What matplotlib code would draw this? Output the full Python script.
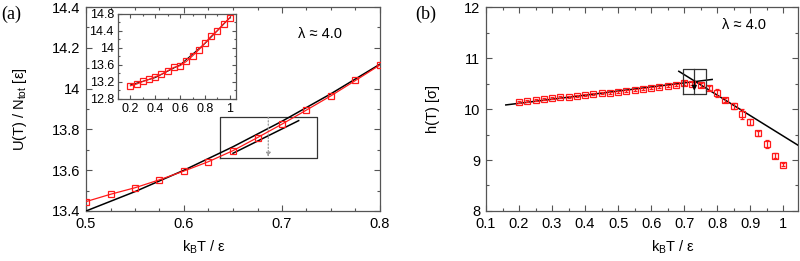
import numpy as np
import matplotlib
matplotlib.use('Agg')
import matplotlib.pyplot as plt
from matplotlib.ticker import MultipleLocator, FuncFormatter

plt.rcParams['font.family'] = ['Liberation Sans', 'DejaVu Sans']
plt.rcParams['mathtext.default'] = 'regular'

# (a) 能量数据
T_a = [0.5, 0.525, 0.55, 0.575, 0.6, 0.625, 0.65, 0.675, 0.7, 0.725, 0.75, 0.775, 0.8]
U_a = [13.446, 13.482, 13.514, 13.553, 13.596, 13.642, 13.696, 13.76, 13.826, 13.895, 13.965, 14.04, 14.116]
T_fit_a = [0.5, 0.55, 0.6, 0.65, 0.7, 0.75, 0.8]
U_fit_a = [13.40, 13.495, 13.60, 13.715, 13.84, 13.975, 14.12]
T_tan_a = [0.65, 0.717]
U_tan_a = [13.683, 13.843]

# (a) 插图
T_in = [0.2, 0.25, 0.3, 0.35, 0.4, 0.45, 0.5, 0.55, 0.6, 0.65, 0.7, 0.75, 0.8, 0.85, 0.9, 0.95, 1.0]
U_in = [13.11, 13.15, 13.21, 13.26, 13.32, 13.38, 13.46, 13.54, 13.58, 13.68, 13.81, 13.95, 14.11, 14.27, 14.40, 14.56, 14.70]
T_fit_in = [0.2, 0.4, 0.6, 0.8, 1.0]
U_fit_in = [13.13, 13.30, 13.60, 14.10, 14.70]

# (b) 高度数据
T_b = [0.2, 0.225, 0.25, 0.275, 0.3, 0.325, 0.35, 0.375, 0.4, 0.425, 0.45, 0.475, 0.5,
       0.525, 0.55, 0.575, 0.6, 0.625, 0.65, 0.675, 0.7, 0.725, 0.75, 0.775, 0.8,
       0.825, 0.85, 0.875, 0.9, 0.925, 0.95, 0.975, 1.0]
h_b = [10.14, 10.16, 10.18, 10.19, 10.21, 10.23, 10.24, 10.26, 10.27, 10.29, 10.31, 10.32, 10.34,
       10.36, 10.38, 10.40, 10.42, 10.44, 10.46, 10.48, 10.51, 10.50, 10.47, 10.42, 10.32,
       10.18, 10.06, 9.91, 9.74, 9.52, 9.31, 9.08, 8.91]
err_b = [0.02, 0.02, 0.02, 0.02, 0.02, 0.02, 0.02, 0.02, 0.02, 0.02, 0.02, 0.02, 0.02,
         0.02, 0.02, 0.02, 0.02, 0.02, 0.02, 0.02, 0.03, 0.03, 0.04, 0.04, 0.08,
         0.04, 0.05, 0.10, 0.06, 0.05, 0.08, 0.05, 0.03]
T_line1_b = [0.160, 0.785]
h_line1_b = [10.08, 10.58]
T_line2_b = [0.684, 1.045]
h_line2_b = [10.74, 9.29]

RED = '#ff1a1a'
SPINE = '#555555'


def style_axes(ax, xmaj, xmin, ymaj, ymin, size=10.5, tl=4, tlm=2):
    ax.xaxis.set_major_locator(MultipleLocator(xmaj))
    ax.xaxis.set_minor_locator(MultipleLocator(xmin))
    ax.yaxis.set_major_locator(MultipleLocator(ymaj))
    ax.yaxis.set_minor_locator(MultipleLocator(ymin))
    fmt = FuncFormatter(lambda v, p: '%g' % round(v, 6))
    ax.xaxis.set_major_formatter(fmt)
    ax.yaxis.set_major_formatter(fmt)
    ax.tick_params(which='both', direction='in', top=True, right=True,
                   color=SPINE, labelsize=size, width=0.8)
    ax.tick_params(which='major', length=tl, pad=4)
    ax.tick_params(which='minor', length=tlm)
    for s in ax.spines.values():
        s.set_color(SPINE)
        s.set_linewidth(0.9)


fig = plt.figure(figsize=(8, 2.61), dpi=100)

# ---- 面板 (a)
ax1 = fig.add_axes([0.1075, 0.1916, 0.3675, 0.7814])
ax1.plot(T_fit_a, U_fit_a, color='black', lw=1.1, zorder=3)
ax1.plot(T_a, U_a, color=RED, lw=0.9, marker='s', ms=5, mfc='none', mec=RED, mew=0.9, zorder=4)
ax1.plot(T_tan_a, U_tan_a, color='black', lw=1.1, zorder=3)
ax1.plot([0.6367, 0.736, 0.736, 0.6367, 0.6367], [13.66, 13.66, 13.859, 13.859, 13.66],
         color='#333333', lw=0.9, zorder=2)
ax1.annotate('', xy=(0.686, 13.665), xytext=(0.686, 13.859),
             arrowprops=dict(arrowstyle='-|>', color='#999999', lw=0.9, ls=':',
                             mutation_scale=6, shrinkA=0, shrinkB=0))
ax1.set_xlim(0.5, 0.8)
ax1.set_ylim(13.4, 14.4)
style_axes(ax1, 0.1, 0.025, 0.2, 0.1)
ax1.text(0.716, 14.27, 'λ ≈ 4.0', fontsize=10.5, va='center')
ax1.set_xlabel('k$_B$T / ε', fontsize=10.5, va='center')
ax1.set_ylabel('U(T) / N$_{tot}$ [ε]', fontsize=10.5, va='center')
ax1.xaxis.set_label_coords(0.40, -0.18)
ax1.yaxis.set_label_coords(-0.225, 0.5)

# 插图
axi = fig.add_axes([0.1475, 0.6207, 0.1475, 0.3273])
axi.plot(T_fit_in, U_fit_in, color='black', lw=0.7, zorder=3)
axi.plot(T_in, U_in, color=RED, lw=0.9, marker='s', ms=5, mfc='none', mec=RED, mew=0.9, zorder=4)
axi.set_xlim(0.1, 1.05)
axi.set_ylim(12.8, 14.8)
style_axes(axi, 0.2, 0.1, 0.4, 0.2, size=9, tl=3, tlm=1.5)
axi.tick_params(which='major', pad=3)

# ---- 面板 (b)
ax2 = fig.add_axes([0.6075, 0.1916, 0.39, 0.7814])
ax2.plot(T_line1_b, h_line1_b, color='black', lw=1.1, zorder=3)
ax2.plot(T_line2_b, h_line2_b, color='black', lw=1.1, zorder=3)
ax2.errorbar(T_b, h_b, yerr=err_b, fmt='s', ms=5, mfc='none', mec=RED, mew=0.9,
             ecolor=RED, elinewidth=0.9, capsize=1.5, capthick=0.9, zorder=4)
ax2.plot([0.696, 0.767, 0.767, 0.696, 0.696], [10.29, 10.29, 10.78, 10.78, 10.29],
         color='#333333', lw=0.9, zorder=5)
ax2.plot([0.731, 0.731], [10.29, 10.78], color='#333333', lw=0.9, zorder=5)
ax2.annotate('', xy=(0.731, 10.36), xytext=(0.731, 10.55),
             arrowprops=dict(arrowstyle='-|>', color='black', lw=0.9,
                             mutation_scale=7, shrinkA=0, shrinkB=0), zorder=6)
ax2.set_xlim(0.1, 1.045)
ax2.set_ylim(8, 12)
style_axes(ax2, 0.1, 0.05, 1, 0.5)
ax2.text(0.816, 11.65, 'λ ≈ 4.0', fontsize=10.5, va='center')
ax2.set_xlabel('k$_B$T / ε', fontsize=10.5, va='center')
ax2.set_ylabel('h(T) [σ]', fontsize=10.5, va='center')
ax2.xaxis.set_label_coords(0.60, -0.18)
ax2.yaxis.set_label_coords(-0.17, 0.5)

fig.text(0.001, 1 - 14 / 261, '(a)', family='Liberation Serif', fontsize=13, va='center')
fig.text(415 / 800, 1 - 14 / 261, '(b)', family='Liberation Serif', fontsize=13, va='center')

fig.savefig('out.png', dpi=100)
